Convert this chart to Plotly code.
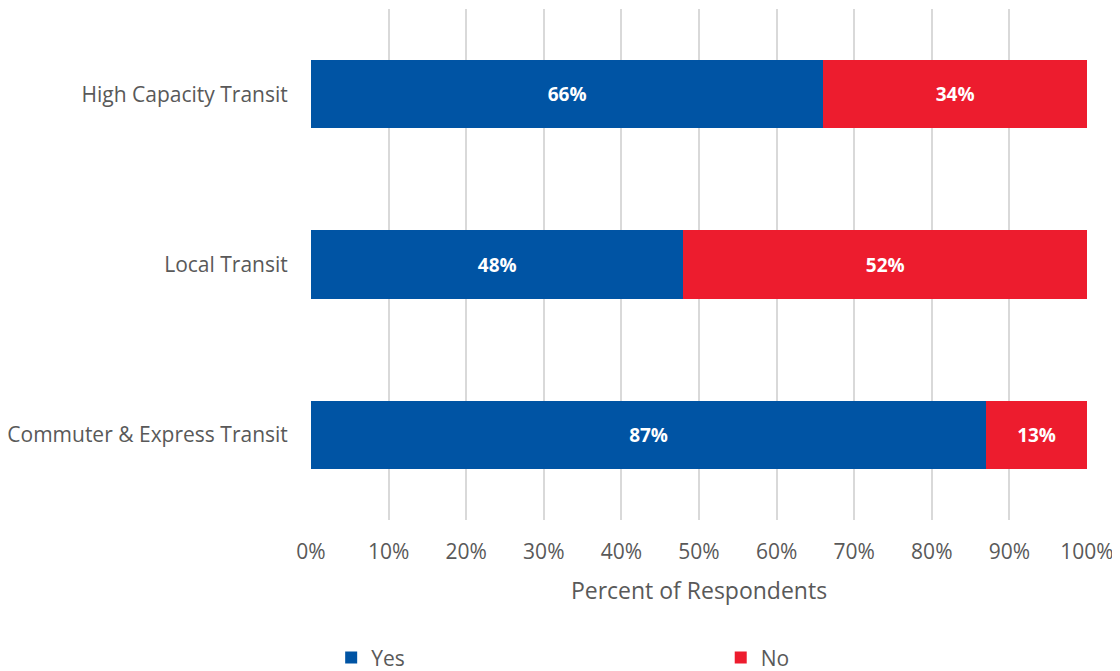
import plotly.graph_objects as go

categories = ["Commuter & Express Transit", "Local Transit", "High Capacity Transit"]
yes_values = [87, 48, 66]
no_values = [13, 52, 34]
x_ticks = [0, 10, 20, 30, 40, 50, 60, 70, 80, 90, 100]
x_tick_labels = [f"{t}%" for t in x_ticks]

BLUE = "#0054A4"
RED = "#ED1C2E"
FONT = "'Open Sans', sans-serif"

fig = go.Figure()
fig.add_trace(go.Bar(
    y=categories, x=yes_values, name="Yes", orientation="h",
    marker=dict(color=BLUE, line=dict(width=0)),
    text=[f"{v}%" for v in yes_values], textposition="inside",
    insidetextanchor="middle",
    textfont=dict(color="white", size=19, family=FONT, weight="bold"),
    hoverinfo="skip", legend="legend", showlegend=True,
))
fig.add_trace(go.Bar(
    y=categories, x=no_values, name="No", orientation="h",
    marker=dict(color=RED, line=dict(width=0)),
    text=[f"{v}%" for v in no_values], textposition="inside",
    insidetextanchor="middle",
    textfont=dict(color="white", size=19, family=FONT, weight="bold"),
    hoverinfo="skip", legend="legend2", showlegend=True,
))

legend_common = dict(
    orientation="h", xanchor="left", y=-0.27, yanchor="middle",
    font=dict(size=21, color="#595959", family=FONT),
    bgcolor="rgba(0,0,0,0)", borderwidth=0, visible=True,
)

fig.update_layout(
    barmode="stack",
    bargap=0.6,
    width=1112, height=663,
    margin=dict(l=303, r=33, t=1, b=151, autoexpand=False),
    paper_bgcolor="white", plot_bgcolor="white",
    font=dict(family=FONT, color="#595959", size=21),
    uniformtext=dict(mode="show", minsize=10),
    showlegend=True,
    legend=dict(x=0.026, **legend_common),
    legend2=dict(x=0.528, **legend_common),
    xaxis=dict(
        range=[0, 100], tickvals=x_ticks, ticktext=x_tick_labels,
        showgrid=True, gridcolor="#D9D9D9", gridwidth=2,
        zeroline=False, showline=False,
        ticks="outside", ticklen=13, tickcolor="rgba(0,0,0,0)",
        tickfont=dict(size=21, color="#595959"),
        title=dict(text="Percent of Respondents", font=dict(size=23, color="#595959"), standoff=18),
        fixedrange=True,
    ),
    yaxis=dict(
        showgrid=False, zeroline=False, showline=False,
        ticks="outside", ticklen=18, tickcolor="rgba(0,0,0,0)",
        tickfont=dict(size=21, color="#595959"),
        fixedrange=True,
    ),
)

fig.write_html("out.html")
